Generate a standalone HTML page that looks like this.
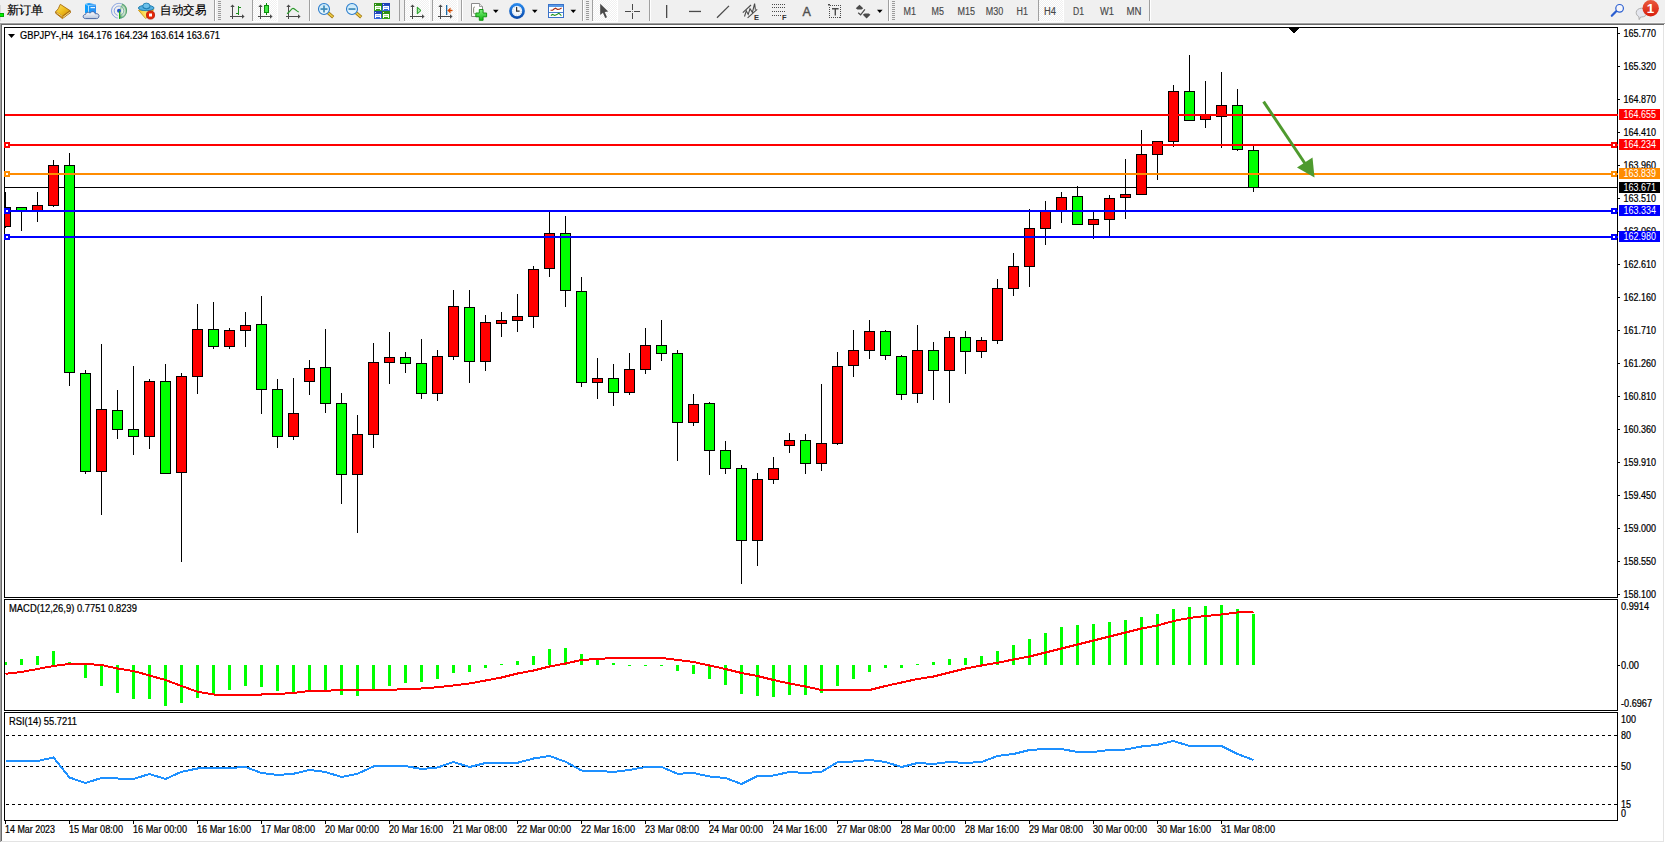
<!DOCTYPE html>
<html lang="zh"><head><meta charset="utf-8"><title>GBPJPY-,H4</title>
<style>html,body{margin:0;padding:0;background:#f0f0f0;overflow:hidden}body{width:1665px;height:843px;position:relative}svg{position:absolute;left:0;top:0;display:block}text{font-family:"Liberation Sans", "DejaVu Sans", sans-serif;white-space:pre}</style>
</head><body>
<svg width="1665" height="843" viewBox="0 0 1665 843">
<g shape-rendering="crispEdges">
<rect x="0" y="0" width="1665" height="843" fill="#f0f0f0"/>
<rect x="0" y="22" width="1665" height="1" fill="#f7f7f7"/>
<rect x="0" y="23" width="1665" height="1" fill="#a0a0a0"/>
<rect x="1" y="24" width="1664" height="1" fill="#696969"/>
<rect x="2" y="25" width="1661" height="816" fill="#ffffff"/>
<rect x="0" y="23" width="1" height="820" fill="#a0a0a0"/>
<rect x="1" y="24" width="1" height="818" fill="#696969"/>
<rect x="1663" y="25" width="1" height="817" fill="#e3e3e3"/>
<rect x="1664" y="24" width="1" height="819" fill="#ffffff"/>
<rect x="1" y="841" width="1663" height="1" fill="#e3e3e3"/>
<rect x="0" y="842" width="1665" height="1" fill="#ffffff"/>
</g>
<g shape-rendering="crispEdges" fill="#000">
<rect x="4" y="27" width="1614" height="1" fill="#000"/>
<rect x="4" y="597" width="1614" height="1" fill="#000"/>
<rect x="4" y="27" width="1" height="571" fill="#000"/>
<rect x="1617" y="27" width="1" height="571" fill="#000"/>
<rect x="4" y="599" width="1614" height="1" fill="#000"/>
<rect x="4" y="710" width="1614" height="1" fill="#000"/>
<rect x="4" y="599" width="1" height="112" fill="#000"/>
<rect x="1617" y="599" width="1" height="112" fill="#000"/>
<rect x="4" y="712" width="1614" height="1" fill="#000"/>
<rect x="4" y="820" width="1614" height="1" fill="#000"/>
<rect x="4" y="712" width="1" height="109" fill="#000"/>
<rect x="1617" y="712" width="1" height="109" fill="#000"/>
</g>
<defs><clipPath id="cm"><rect x="5" y="28" width="1612" height="569"/></clipPath>
<clipPath id="c2"><rect x="5" y="600" width="1612" height="110"/></clipPath>
<clipPath id="c3"><rect x="5" y="713" width="1612" height="107"/></clipPath>
<linearGradient id="redg" x1="0" y1="0" x2="0" y2="1"><stop offset="0" stop-color="#ea5a3c"/><stop offset="1" stop-color="#d81e0c"/></linearGradient>
</defs>
<g shape-rendering="crispEdges" clip-path="url(#cm)">
<rect x="5" y="187" width="1612" height="1" fill="#000"/>
<rect x="5" y="192" width="1" height="36" fill="#000"/>
<rect x="0" y="207" width="11" height="20" fill="#000"/>
<rect x="1" y="208" width="9" height="18" fill="#ff0000"/>
<rect x="21" y="207" width="1" height="24" fill="#000"/>
<rect x="16" y="207" width="11" height="4" fill="#000"/>
<rect x="17" y="208" width="9" height="2" fill="#00ff00"/>
<rect x="37" y="192" width="1" height="30" fill="#000"/>
<rect x="32" y="205" width="11" height="6" fill="#000"/>
<rect x="33" y="206" width="9" height="4" fill="#ff0000"/>
<rect x="53" y="160" width="1" height="47" fill="#000"/>
<rect x="48" y="165" width="11" height="41" fill="#000"/>
<rect x="49" y="166" width="9" height="39" fill="#ff0000"/>
<rect x="69" y="153" width="1" height="233" fill="#000"/>
<rect x="64" y="165" width="11" height="208" fill="#000"/>
<rect x="65" y="166" width="9" height="206" fill="#00ff00"/>
<rect x="85" y="370" width="1" height="104" fill="#000"/>
<rect x="80" y="373" width="11" height="99" fill="#000"/>
<rect x="81" y="374" width="9" height="97" fill="#00ff00"/>
<rect x="101" y="344" width="1" height="171" fill="#000"/>
<rect x="96" y="409" width="11" height="63" fill="#000"/>
<rect x="97" y="410" width="9" height="61" fill="#ff0000"/>
<rect x="117" y="390" width="1" height="49" fill="#000"/>
<rect x="112" y="410" width="11" height="20" fill="#000"/>
<rect x="113" y="411" width="9" height="18" fill="#00ff00"/>
<rect x="133" y="366" width="1" height="89" fill="#000"/>
<rect x="128" y="429" width="11" height="8" fill="#000"/>
<rect x="129" y="430" width="9" height="6" fill="#00ff00"/>
<rect x="149" y="379" width="1" height="70" fill="#000"/>
<rect x="144" y="381" width="11" height="56" fill="#000"/>
<rect x="145" y="382" width="9" height="54" fill="#ff0000"/>
<rect x="165" y="364" width="1" height="110" fill="#000"/>
<rect x="160" y="381" width="11" height="93" fill="#000"/>
<rect x="161" y="382" width="9" height="91" fill="#00ff00"/>
<rect x="181" y="373" width="1" height="189" fill="#000"/>
<rect x="176" y="376" width="11" height="97" fill="#000"/>
<rect x="177" y="377" width="9" height="95" fill="#ff0000"/>
<rect x="197" y="304" width="1" height="90" fill="#000"/>
<rect x="192" y="329" width="11" height="48" fill="#000"/>
<rect x="193" y="330" width="9" height="46" fill="#ff0000"/>
<rect x="213" y="302" width="1" height="47" fill="#000"/>
<rect x="208" y="329" width="11" height="18" fill="#000"/>
<rect x="209" y="330" width="9" height="16" fill="#00ff00"/>
<rect x="229" y="328" width="1" height="21" fill="#000"/>
<rect x="224" y="330" width="11" height="17" fill="#000"/>
<rect x="225" y="331" width="9" height="15" fill="#ff0000"/>
<rect x="245" y="312" width="1" height="35" fill="#000"/>
<rect x="240" y="325" width="11" height="6" fill="#000"/>
<rect x="241" y="326" width="9" height="4" fill="#ff0000"/>
<rect x="261" y="296" width="1" height="118" fill="#000"/>
<rect x="256" y="324" width="11" height="66" fill="#000"/>
<rect x="257" y="325" width="9" height="64" fill="#00ff00"/>
<rect x="277" y="379" width="1" height="69" fill="#000"/>
<rect x="272" y="389" width="11" height="48" fill="#000"/>
<rect x="273" y="390" width="9" height="46" fill="#00ff00"/>
<rect x="293" y="378" width="1" height="62" fill="#000"/>
<rect x="288" y="413" width="11" height="24" fill="#000"/>
<rect x="289" y="414" width="9" height="22" fill="#ff0000"/>
<rect x="309" y="360" width="1" height="35" fill="#000"/>
<rect x="304" y="368" width="11" height="14" fill="#000"/>
<rect x="305" y="369" width="9" height="12" fill="#ff0000"/>
<rect x="325" y="329" width="1" height="84" fill="#000"/>
<rect x="320" y="367" width="11" height="37" fill="#000"/>
<rect x="321" y="368" width="9" height="35" fill="#00ff00"/>
<rect x="341" y="393" width="1" height="111" fill="#000"/>
<rect x="336" y="403" width="11" height="72" fill="#000"/>
<rect x="337" y="404" width="9" height="70" fill="#00ff00"/>
<rect x="357" y="415" width="1" height="118" fill="#000"/>
<rect x="352" y="434" width="11" height="41" fill="#000"/>
<rect x="353" y="435" width="9" height="39" fill="#ff0000"/>
<rect x="373" y="343" width="1" height="105" fill="#000"/>
<rect x="368" y="362" width="11" height="73" fill="#000"/>
<rect x="369" y="363" width="9" height="71" fill="#ff0000"/>
<rect x="389" y="332" width="1" height="52" fill="#000"/>
<rect x="384" y="357" width="11" height="6" fill="#000"/>
<rect x="385" y="358" width="9" height="4" fill="#ff0000"/>
<rect x="405" y="352" width="1" height="21" fill="#000"/>
<rect x="400" y="357" width="11" height="7" fill="#000"/>
<rect x="401" y="358" width="9" height="5" fill="#00ff00"/>
<rect x="421" y="339" width="1" height="60" fill="#000"/>
<rect x="416" y="363" width="11" height="31" fill="#000"/>
<rect x="417" y="364" width="9" height="29" fill="#00ff00"/>
<rect x="437" y="350" width="1" height="51" fill="#000"/>
<rect x="432" y="356" width="11" height="38" fill="#000"/>
<rect x="433" y="357" width="9" height="36" fill="#ff0000"/>
<rect x="453" y="290" width="1" height="70" fill="#000"/>
<rect x="448" y="306" width="11" height="51" fill="#000"/>
<rect x="449" y="307" width="9" height="49" fill="#ff0000"/>
<rect x="469" y="290" width="1" height="93" fill="#000"/>
<rect x="464" y="307" width="11" height="55" fill="#000"/>
<rect x="465" y="308" width="9" height="53" fill="#00ff00"/>
<rect x="485" y="315" width="1" height="56" fill="#000"/>
<rect x="480" y="322" width="11" height="40" fill="#000"/>
<rect x="481" y="323" width="9" height="38" fill="#ff0000"/>
<rect x="501" y="312" width="1" height="25" fill="#000"/>
<rect x="496" y="320" width="11" height="4" fill="#000"/>
<rect x="497" y="321" width="9" height="2" fill="#ff0000"/>
<rect x="517" y="294" width="1" height="38" fill="#000"/>
<rect x="512" y="316" width="11" height="5" fill="#000"/>
<rect x="513" y="317" width="9" height="3" fill="#ff0000"/>
<rect x="533" y="266" width="1" height="62" fill="#000"/>
<rect x="528" y="269" width="11" height="48" fill="#000"/>
<rect x="529" y="270" width="9" height="46" fill="#ff0000"/>
<rect x="549" y="211" width="1" height="66" fill="#000"/>
<rect x="544" y="233" width="11" height="36" fill="#000"/>
<rect x="545" y="234" width="9" height="34" fill="#ff0000"/>
<rect x="565" y="216" width="1" height="91" fill="#000"/>
<rect x="560" y="233" width="11" height="58" fill="#000"/>
<rect x="561" y="234" width="9" height="56" fill="#00ff00"/>
<rect x="581" y="277" width="1" height="110" fill="#000"/>
<rect x="576" y="291" width="11" height="92" fill="#000"/>
<rect x="577" y="292" width="9" height="90" fill="#00ff00"/>
<rect x="597" y="358" width="1" height="41" fill="#000"/>
<rect x="592" y="378" width="11" height="5" fill="#000"/>
<rect x="593" y="379" width="9" height="3" fill="#ff0000"/>
<rect x="613" y="364" width="1" height="42" fill="#000"/>
<rect x="608" y="378" width="11" height="15" fill="#000"/>
<rect x="609" y="379" width="9" height="13" fill="#00ff00"/>
<rect x="629" y="353" width="1" height="42" fill="#000"/>
<rect x="624" y="369" width="11" height="24" fill="#000"/>
<rect x="625" y="370" width="9" height="22" fill="#ff0000"/>
<rect x="645" y="328" width="1" height="46" fill="#000"/>
<rect x="640" y="345" width="11" height="25" fill="#000"/>
<rect x="641" y="346" width="9" height="23" fill="#ff0000"/>
<rect x="661" y="320" width="1" height="41" fill="#000"/>
<rect x="656" y="345" width="11" height="9" fill="#000"/>
<rect x="657" y="346" width="9" height="7" fill="#00ff00"/>
<rect x="677" y="350" width="1" height="111" fill="#000"/>
<rect x="672" y="353" width="11" height="70" fill="#000"/>
<rect x="673" y="354" width="9" height="68" fill="#00ff00"/>
<rect x="693" y="394" width="1" height="32" fill="#000"/>
<rect x="688" y="404" width="11" height="19" fill="#000"/>
<rect x="689" y="405" width="9" height="17" fill="#ff0000"/>
<rect x="709" y="402" width="1" height="73" fill="#000"/>
<rect x="704" y="403" width="11" height="48" fill="#000"/>
<rect x="705" y="404" width="9" height="46" fill="#00ff00"/>
<rect x="725" y="441" width="1" height="33" fill="#000"/>
<rect x="720" y="450" width="11" height="19" fill="#000"/>
<rect x="721" y="451" width="9" height="17" fill="#00ff00"/>
<rect x="741" y="465" width="1" height="119" fill="#000"/>
<rect x="736" y="468" width="11" height="73" fill="#000"/>
<rect x="737" y="469" width="9" height="71" fill="#00ff00"/>
<rect x="757" y="473" width="1" height="93" fill="#000"/>
<rect x="752" y="479" width="11" height="62" fill="#000"/>
<rect x="753" y="480" width="9" height="60" fill="#ff0000"/>
<rect x="773" y="457" width="1" height="27" fill="#000"/>
<rect x="768" y="468" width="11" height="12" fill="#000"/>
<rect x="769" y="469" width="9" height="10" fill="#ff0000"/>
<rect x="789" y="433" width="1" height="20" fill="#000"/>
<rect x="784" y="440" width="11" height="6" fill="#000"/>
<rect x="785" y="441" width="9" height="4" fill="#ff0000"/>
<rect x="805" y="434" width="1" height="40" fill="#000"/>
<rect x="800" y="440" width="11" height="24" fill="#000"/>
<rect x="801" y="441" width="9" height="22" fill="#00ff00"/>
<rect x="821" y="384" width="1" height="87" fill="#000"/>
<rect x="816" y="443" width="11" height="21" fill="#000"/>
<rect x="817" y="444" width="9" height="19" fill="#ff0000"/>
<rect x="837" y="352" width="1" height="93" fill="#000"/>
<rect x="832" y="366" width="11" height="78" fill="#000"/>
<rect x="833" y="367" width="9" height="76" fill="#ff0000"/>
<rect x="853" y="330" width="1" height="47" fill="#000"/>
<rect x="848" y="350" width="11" height="16" fill="#000"/>
<rect x="849" y="351" width="9" height="14" fill="#ff0000"/>
<rect x="869" y="320" width="1" height="39" fill="#000"/>
<rect x="864" y="331" width="11" height="20" fill="#000"/>
<rect x="865" y="332" width="9" height="18" fill="#ff0000"/>
<rect x="885" y="330" width="1" height="30" fill="#000"/>
<rect x="880" y="331" width="11" height="25" fill="#000"/>
<rect x="881" y="332" width="9" height="23" fill="#00ff00"/>
<rect x="901" y="355" width="1" height="45" fill="#000"/>
<rect x="896" y="356" width="11" height="39" fill="#000"/>
<rect x="897" y="357" width="9" height="37" fill="#00ff00"/>
<rect x="917" y="325" width="1" height="78" fill="#000"/>
<rect x="912" y="350" width="11" height="44" fill="#000"/>
<rect x="913" y="351" width="9" height="42" fill="#ff0000"/>
<rect x="933" y="342" width="1" height="58" fill="#000"/>
<rect x="928" y="350" width="11" height="21" fill="#000"/>
<rect x="929" y="351" width="9" height="19" fill="#00ff00"/>
<rect x="949" y="331" width="1" height="72" fill="#000"/>
<rect x="944" y="337" width="11" height="34" fill="#000"/>
<rect x="945" y="338" width="9" height="32" fill="#ff0000"/>
<rect x="965" y="331" width="1" height="43" fill="#000"/>
<rect x="960" y="337" width="11" height="15" fill="#000"/>
<rect x="961" y="338" width="9" height="13" fill="#00ff00"/>
<rect x="981" y="337" width="1" height="21" fill="#000"/>
<rect x="976" y="340" width="11" height="12" fill="#000"/>
<rect x="977" y="341" width="9" height="10" fill="#ff0000"/>
<rect x="997" y="279" width="1" height="65" fill="#000"/>
<rect x="992" y="288" width="11" height="53" fill="#000"/>
<rect x="993" y="289" width="9" height="51" fill="#ff0000"/>
<rect x="1013" y="253" width="1" height="43" fill="#000"/>
<rect x="1008" y="266" width="11" height="23" fill="#000"/>
<rect x="1009" y="267" width="9" height="21" fill="#ff0000"/>
<rect x="1029" y="209" width="1" height="78" fill="#000"/>
<rect x="1024" y="228" width="11" height="39" fill="#000"/>
<rect x="1025" y="229" width="9" height="37" fill="#ff0000"/>
<rect x="1045" y="201" width="1" height="44" fill="#000"/>
<rect x="1040" y="210" width="11" height="19" fill="#000"/>
<rect x="1041" y="211" width="9" height="17" fill="#ff0000"/>
<rect x="1061" y="192" width="1" height="31" fill="#000"/>
<rect x="1056" y="197" width="11" height="14" fill="#000"/>
<rect x="1057" y="198" width="9" height="12" fill="#ff0000"/>
<rect x="1077" y="186" width="1" height="39" fill="#000"/>
<rect x="1072" y="196" width="11" height="29" fill="#000"/>
<rect x="1073" y="197" width="9" height="27" fill="#00ff00"/>
<rect x="1093" y="212" width="1" height="27" fill="#000"/>
<rect x="1088" y="219" width="11" height="6" fill="#000"/>
<rect x="1089" y="220" width="9" height="4" fill="#ff0000"/>
<rect x="1109" y="195" width="1" height="41" fill="#000"/>
<rect x="1104" y="198" width="11" height="22" fill="#000"/>
<rect x="1105" y="199" width="9" height="20" fill="#ff0000"/>
<rect x="1125" y="159" width="1" height="60" fill="#000"/>
<rect x="1120" y="194" width="11" height="4" fill="#000"/>
<rect x="1121" y="195" width="9" height="2" fill="#ff0000"/>
<rect x="1141" y="130" width="1" height="65" fill="#000"/>
<rect x="1136" y="154" width="11" height="41" fill="#000"/>
<rect x="1137" y="155" width="9" height="39" fill="#ff0000"/>
<rect x="1157" y="141" width="1" height="39" fill="#000"/>
<rect x="1152" y="141" width="11" height="14" fill="#000"/>
<rect x="1153" y="142" width="9" height="12" fill="#ff0000"/>
<rect x="1173" y="85" width="1" height="62" fill="#000"/>
<rect x="1168" y="91" width="11" height="51" fill="#000"/>
<rect x="1169" y="92" width="9" height="49" fill="#ff0000"/>
<rect x="1189" y="55" width="1" height="66" fill="#000"/>
<rect x="1184" y="91" width="11" height="30" fill="#000"/>
<rect x="1185" y="92" width="9" height="28" fill="#00ff00"/>
<rect x="1205" y="81" width="1" height="47" fill="#000"/>
<rect x="1200" y="115" width="11" height="5" fill="#000"/>
<rect x="1201" y="116" width="9" height="3" fill="#ff0000"/>
<rect x="1221" y="72" width="1" height="76" fill="#000"/>
<rect x="1216" y="105" width="11" height="12" fill="#000"/>
<rect x="1217" y="106" width="9" height="10" fill="#ff0000"/>
<rect x="1237" y="89" width="1" height="62" fill="#000"/>
<rect x="1232" y="105" width="11" height="45" fill="#000"/>
<rect x="1233" y="106" width="9" height="43" fill="#00ff00"/>
<rect x="1253" y="146" width="1" height="46" fill="#000"/>
<rect x="1248" y="150" width="11" height="38" fill="#000"/>
<rect x="1249" y="151" width="9" height="36" fill="#00ff00"/>
</g>
<g shape-rendering="crispEdges">
<rect x="5" y="114" width="1613" height="2" fill="#ff0000"/>
<rect x="5" y="144" width="1613" height="2" fill="#ff0000"/>
<rect x="4" y="142" width="6" height="6" fill="#ff0000"/>
<rect x="6" y="144" width="2" height="2" fill="#fff"/>
<rect x="1611" y="142" width="6" height="6" fill="#ff0000"/>
<rect x="1613" y="144" width="2" height="2" fill="#fff"/>
<rect x="5" y="173" width="1613" height="2" fill="#ff8c00"/>
<rect x="4" y="171" width="6" height="6" fill="#ff8c00"/>
<rect x="6" y="173" width="2" height="2" fill="#fff"/>
<rect x="1611" y="171" width="6" height="6" fill="#ff8c00"/>
<rect x="1613" y="173" width="2" height="2" fill="#fff"/>
<rect x="5" y="210" width="1613" height="2" fill="#0000ff"/>
<rect x="4" y="208" width="6" height="6" fill="#0000ff"/>
<rect x="6" y="210" width="2" height="2" fill="#fff"/>
<rect x="1611" y="208" width="6" height="6" fill="#0000ff"/>
<rect x="1613" y="210" width="2" height="2" fill="#fff"/>
<rect x="5" y="236" width="1613" height="2" fill="#0000ff"/>
<rect x="4" y="234" width="6" height="6" fill="#0000ff"/>
<rect x="6" y="236" width="2" height="2" fill="#fff"/>
<rect x="1611" y="234" width="6" height="6" fill="#0000ff"/>
<rect x="1613" y="236" width="2" height="2" fill="#fff"/>
</g>
<g><line x1="1263.6" y1="101.6" x2="1306" y2="165" stroke="#4e9a2e" stroke-width="3"/>
<polygon points="1314.5,177.5 1297,167.5 1312.5,157.5" fill="#4e9a2e"/></g>
<polygon points="1288.5,28 1299.5,28 1294,33.5" fill="#000" shape-rendering="crispEdges"/>
<g shape-rendering="crispEdges" clip-path="url(#c2)">
<rect x="4" y="662" width="3" height="3" fill="#00ff00"/>
<rect x="20" y="659" width="3" height="6" fill="#00ff00"/>
<rect x="36" y="656" width="3" height="9" fill="#00ff00"/>
<rect x="52" y="651" width="3" height="14" fill="#00ff00"/>
<rect x="68" y="662" width="3" height="3" fill="#00ff00"/>
<rect x="84" y="665" width="3" height="13" fill="#00ff00"/>
<rect x="100" y="665" width="3" height="21" fill="#00ff00"/>
<rect x="116" y="665" width="3" height="28" fill="#00ff00"/>
<rect x="132" y="665" width="3" height="34" fill="#00ff00"/>
<rect x="148" y="665" width="3" height="34" fill="#00ff00"/>
<rect x="164" y="665" width="3" height="41" fill="#00ff00"/>
<rect x="180" y="665" width="3" height="38" fill="#00ff00"/>
<rect x="196" y="665" width="3" height="33" fill="#00ff00"/>
<rect x="212" y="665" width="3" height="30" fill="#00ff00"/>
<rect x="228" y="665" width="3" height="25" fill="#00ff00"/>
<rect x="244" y="665" width="3" height="21" fill="#00ff00"/>
<rect x="260" y="665" width="3" height="22" fill="#00ff00"/>
<rect x="276" y="665" width="3" height="26" fill="#00ff00"/>
<rect x="292" y="665" width="3" height="28" fill="#00ff00"/>
<rect x="308" y="665" width="3" height="26" fill="#00ff00"/>
<rect x="324" y="665" width="3" height="25" fill="#00ff00"/>
<rect x="340" y="665" width="3" height="30" fill="#00ff00"/>
<rect x="356" y="665" width="3" height="31" fill="#00ff00"/>
<rect x="372" y="665" width="3" height="24" fill="#00ff00"/>
<rect x="388" y="665" width="3" height="21" fill="#00ff00"/>
<rect x="404" y="665" width="3" height="18" fill="#00ff00"/>
<rect x="420" y="665" width="3" height="17" fill="#00ff00"/>
<rect x="436" y="665" width="3" height="14" fill="#00ff00"/>
<rect x="452" y="665" width="3" height="8" fill="#00ff00"/>
<rect x="468" y="665" width="3" height="7" fill="#00ff00"/>
<rect x="484" y="665" width="3" height="3" fill="#00ff00"/>
<rect x="500" y="664" width="3" height="1" fill="#00ff00"/>
<rect x="516" y="661" width="3" height="4" fill="#00ff00"/>
<rect x="532" y="656" width="3" height="9" fill="#00ff00"/>
<rect x="548" y="649" width="3" height="16" fill="#00ff00"/>
<rect x="564" y="648" width="3" height="17" fill="#00ff00"/>
<rect x="580" y="654" width="3" height="11" fill="#00ff00"/>
<rect x="596" y="658" width="3" height="7" fill="#00ff00"/>
<rect x="612" y="663" width="3" height="2" fill="#00ff00"/>
<rect x="628" y="665" width="3" height="1" fill="#00ff00"/>
<rect x="644" y="665" width="3" height="1" fill="#00ff00"/>
<rect x="660" y="665" width="3" height="1" fill="#00ff00"/>
<rect x="676" y="665" width="3" height="6" fill="#00ff00"/>
<rect x="692" y="665" width="3" height="9" fill="#00ff00"/>
<rect x="708" y="665" width="3" height="14" fill="#00ff00"/>
<rect x="724" y="665" width="3" height="20" fill="#00ff00"/>
<rect x="740" y="665" width="3" height="29" fill="#00ff00"/>
<rect x="756" y="665" width="3" height="31" fill="#00ff00"/>
<rect x="772" y="665" width="3" height="32" fill="#00ff00"/>
<rect x="788" y="665" width="3" height="30" fill="#00ff00"/>
<rect x="804" y="665" width="3" height="30" fill="#00ff00"/>
<rect x="820" y="665" width="3" height="28" fill="#00ff00"/>
<rect x="836" y="665" width="3" height="21" fill="#00ff00"/>
<rect x="852" y="665" width="3" height="14" fill="#00ff00"/>
<rect x="868" y="665" width="3" height="7" fill="#00ff00"/>
<rect x="884" y="665" width="3" height="3" fill="#00ff00"/>
<rect x="900" y="665" width="3" height="3" fill="#00ff00"/>
<rect x="916" y="664" width="3" height="1" fill="#00ff00"/>
<rect x="932" y="662" width="3" height="3" fill="#00ff00"/>
<rect x="948" y="659" width="3" height="6" fill="#00ff00"/>
<rect x="964" y="658" width="3" height="7" fill="#00ff00"/>
<rect x="980" y="656" width="3" height="9" fill="#00ff00"/>
<rect x="996" y="651" width="3" height="14" fill="#00ff00"/>
<rect x="1012" y="645" width="3" height="20" fill="#00ff00"/>
<rect x="1028" y="639" width="3" height="26" fill="#00ff00"/>
<rect x="1044" y="633" width="3" height="32" fill="#00ff00"/>
<rect x="1060" y="627" width="3" height="38" fill="#00ff00"/>
<rect x="1076" y="625" width="3" height="40" fill="#00ff00"/>
<rect x="1092" y="624" width="3" height="41" fill="#00ff00"/>
<rect x="1108" y="622" width="3" height="43" fill="#00ff00"/>
<rect x="1124" y="620" width="3" height="45" fill="#00ff00"/>
<rect x="1140" y="617" width="3" height="48" fill="#00ff00"/>
<rect x="1156" y="614" width="3" height="51" fill="#00ff00"/>
<rect x="1172" y="609" width="3" height="56" fill="#00ff00"/>
<rect x="1188" y="607" width="3" height="58" fill="#00ff00"/>
<rect x="1204" y="606" width="3" height="59" fill="#00ff00"/>
<rect x="1220" y="605" width="3" height="60" fill="#00ff00"/>
<rect x="1236" y="609" width="3" height="56" fill="#00ff00"/>
<rect x="1252" y="614" width="3" height="51" fill="#00ff00"/>
</g>
<polyline points="5.5,673.75 21.5,672 37.5,669 53.5,666 69.5,664 85.5,664 101.5,665 117.5,668.5 133.5,671 149.5,675.5 165.5,680 181.5,686 197.5,691.75 213.5,694.5 229.5,694.5 245.5,694.5 261.5,694.5 277.5,694 293.5,693 309.5,691 325.5,690.75 341.5,690 357.5,690 373.5,690 389.5,690 405.5,689 421.5,688.5 437.5,687.25 453.5,685.5 469.5,683.5 485.5,680.5 501.5,677.5 517.5,673.5 533.5,670.5 549.5,666.5 565.5,663.5 581.5,660 597.5,659 613.5,658 629.5,658 645.5,658 661.5,658 677.5,660 693.5,662 709.5,665.5 725.5,669 741.5,673 757.5,676 773.5,680 789.5,683.5 805.5,686.5 821.5,690 837.5,690 853.5,690 869.5,690 885.5,686 901.5,682.5 917.5,679 933.5,676.5 949.5,672.5 965.5,668.5 981.5,665.5 997.5,662.75 1013.5,659.5 1029.5,656.5 1045.5,652.5 1061.5,648.5 1077.5,644.5 1093.5,640.5 1109.5,636.5 1125.5,632.5 1141.5,628.5 1157.5,625.5 1173.5,621 1189.5,618 1205.5,616 1221.5,614.5 1237.5,612.5 1253.5,612" fill="none" stroke="#ff0000" stroke-width="2" stroke-linejoin="round" shape-rendering="crispEdges" clip-path="url(#c2)"/>
<g shape-rendering="crispEdges">
<line x1="6" y1="735.5" x2="1617" y2="735.5" stroke="#000" stroke-width="1" stroke-dasharray="3,3" stroke-dashoffset="0"/>
<line x1="6" y1="766.5" x2="1617" y2="766.5" stroke="#000" stroke-width="1" stroke-dasharray="3,3" stroke-dashoffset="0"/>
<line x1="6" y1="804.5" x2="1617" y2="804.5" stroke="#000" stroke-width="1" stroke-dasharray="3,3" stroke-dashoffset="0"/>
</g>
<polyline points="5.5,761 21.5,761 37.5,761 53.5,757.5 69.5,777.5 85.5,783 101.5,778 117.5,778.5 133.5,779 149.5,774 165.5,779 181.5,771.75 197.5,768.5 213.5,768 229.5,768 245.5,767 261.5,773 277.5,775 293.5,773.75 309.5,770 325.5,772 341.5,777 357.5,773.75 373.5,766.5 389.5,766 405.5,766 421.5,769 437.5,767.5 453.5,762 469.5,767 485.5,763 501.5,763 517.5,762.75 533.5,758.5 549.5,756 565.5,761.75 581.5,770.5 597.5,770.75 613.5,772 629.5,770 645.5,767 661.5,767 677.5,773.75 693.5,773 709.5,776.5 725.5,778 741.5,784 757.5,776 773.5,775.5 789.5,772 805.5,773 821.5,771.75 837.5,762.25 853.5,761.5 869.5,760 885.5,762 901.5,767 917.5,763 933.5,764 949.5,762 965.5,763 981.5,762 997.5,756 1013.5,754 1029.5,750 1045.5,749 1061.5,749 1077.5,752 1093.5,752 1109.5,750 1125.5,749.5 1141.5,746.5 1157.5,744.75 1173.5,741 1189.5,746 1205.5,746 1221.5,746 1237.5,754 1253.5,760" fill="none" stroke="#1e90ff" stroke-width="2" stroke-linejoin="round" shape-rendering="crispEdges" clip-path="url(#c3)"/>
<g shape-rendering="crispEdges">
<rect x="1618" y="33" width="2" height="1" fill="#000"/>
<rect x="1618" y="66" width="2" height="1" fill="#000"/>
<rect x="1618" y="99" width="2" height="1" fill="#000"/>
<rect x="1618" y="132" width="2" height="1" fill="#000"/>
<rect x="1618" y="165" width="2" height="1" fill="#000"/>
<rect x="1618" y="198" width="2" height="1" fill="#000"/>
<rect x="1618" y="231" width="2" height="1" fill="#000"/>
<rect x="1618" y="264" width="2" height="1" fill="#000"/>
<rect x="1618" y="297" width="2" height="1" fill="#000"/>
<rect x="1618" y="330" width="2" height="1" fill="#000"/>
<rect x="1618" y="363" width="2" height="1" fill="#000"/>
<rect x="1618" y="396" width="2" height="1" fill="#000"/>
<rect x="1618" y="429" width="2" height="1" fill="#000"/>
<rect x="1618" y="462" width="2" height="1" fill="#000"/>
<rect x="1618" y="495" width="2" height="1" fill="#000"/>
<rect x="1618" y="528" width="2" height="1" fill="#000"/>
<rect x="1618" y="561" width="2" height="1" fill="#000"/>
<rect x="1618" y="594" width="2" height="1" fill="#000"/>
</g>
<text x="1623.5" y="37" font-size="10" fill="#000" textLength="32.5" lengthAdjust="spacingAndGlyphs" stroke="#000" stroke-width="0.22">165.770</text>
<text x="1623.5" y="70" font-size="10" fill="#000" textLength="32.5" lengthAdjust="spacingAndGlyphs" stroke="#000" stroke-width="0.22">165.320</text>
<text x="1623.5" y="103" font-size="10" fill="#000" textLength="32.5" lengthAdjust="spacingAndGlyphs" stroke="#000" stroke-width="0.22">164.870</text>
<text x="1623.5" y="136" font-size="10" fill="#000" textLength="32.5" lengthAdjust="spacingAndGlyphs" stroke="#000" stroke-width="0.22">164.410</text>
<text x="1623.5" y="169" font-size="10" fill="#000" textLength="32.5" lengthAdjust="spacingAndGlyphs" stroke="#000" stroke-width="0.22">163.960</text>
<text x="1623.5" y="202" font-size="10" fill="#000" textLength="32.5" lengthAdjust="spacingAndGlyphs" stroke="#000" stroke-width="0.22">163.510</text>
<text x="1623.5" y="235" font-size="10" fill="#000" textLength="32.5" lengthAdjust="spacingAndGlyphs" stroke="#000" stroke-width="0.22">163.060</text>
<text x="1623.5" y="268" font-size="10" fill="#000" textLength="32.5" lengthAdjust="spacingAndGlyphs" stroke="#000" stroke-width="0.22">162.610</text>
<text x="1623.5" y="301" font-size="10" fill="#000" textLength="32.5" lengthAdjust="spacingAndGlyphs" stroke="#000" stroke-width="0.22">162.160</text>
<text x="1623.5" y="334" font-size="10" fill="#000" textLength="32.5" lengthAdjust="spacingAndGlyphs" stroke="#000" stroke-width="0.22">161.710</text>
<text x="1623.5" y="367" font-size="10" fill="#000" textLength="32.5" lengthAdjust="spacingAndGlyphs" stroke="#000" stroke-width="0.22">161.260</text>
<text x="1623.5" y="400" font-size="10" fill="#000" textLength="32.5" lengthAdjust="spacingAndGlyphs" stroke="#000" stroke-width="0.22">160.810</text>
<text x="1623.5" y="433" font-size="10" fill="#000" textLength="32.5" lengthAdjust="spacingAndGlyphs" stroke="#000" stroke-width="0.22">160.360</text>
<text x="1623.5" y="466" font-size="10" fill="#000" textLength="32.5" lengthAdjust="spacingAndGlyphs" stroke="#000" stroke-width="0.22">159.910</text>
<text x="1623.5" y="499" font-size="10" fill="#000" textLength="32.5" lengthAdjust="spacingAndGlyphs" stroke="#000" stroke-width="0.22">159.450</text>
<text x="1623.5" y="532" font-size="10" fill="#000" textLength="32.5" lengthAdjust="spacingAndGlyphs" stroke="#000" stroke-width="0.22">159.000</text>
<text x="1623.5" y="565" font-size="10" fill="#000" textLength="32.5" lengthAdjust="spacingAndGlyphs" stroke="#000" stroke-width="0.22">158.550</text>
<text x="1623.5" y="598" font-size="10" fill="#000" textLength="32.5" lengthAdjust="spacingAndGlyphs" stroke="#000" stroke-width="0.22">158.100</text>
<g shape-rendering="crispEdges">
<rect x="1619" y="109" width="41" height="11" fill="#ff0000"/>
<rect x="1619" y="139" width="41" height="11" fill="#ff0000"/>
<rect x="1619" y="168" width="41" height="11" fill="#ff8c00"/>
<rect x="1619" y="205" width="41" height="11" fill="#0000ff"/>
<rect x="1619" y="231" width="41" height="11" fill="#0000ff"/>
<rect x="1619" y="182" width="41" height="11" fill="#000"/>
</g>
<text x="1623.5" y="118" font-size="10" fill="#fff" textLength="32.5" lengthAdjust="spacingAndGlyphs">164.655</text>
<text x="1623.5" y="148" font-size="10" fill="#fff" textLength="32.5" lengthAdjust="spacingAndGlyphs">164.234</text>
<text x="1623.5" y="177" font-size="10" fill="#fff" textLength="32.5" lengthAdjust="spacingAndGlyphs">163.839</text>
<text x="1623.5" y="214" font-size="10" fill="#fff" textLength="32.5" lengthAdjust="spacingAndGlyphs">163.334</text>
<text x="1623.5" y="240" font-size="10" fill="#fff" textLength="32.5" lengthAdjust="spacingAndGlyphs">162.980</text>
<text x="1623.5" y="191" font-size="10" fill="#fff" textLength="32.5" lengthAdjust="spacingAndGlyphs">163.671</text>
<g shape-rendering="crispEdges">
<rect x="1618" y="665" width="2" height="1" fill="#000"/>
</g>
<text x="1621" y="610" font-size="10" fill="#000" textLength="28" lengthAdjust="spacingAndGlyphs" stroke="#000" stroke-width="0.22">0.9914</text>
<text x="1621" y="669" font-size="10" fill="#000" textLength="18" lengthAdjust="spacingAndGlyphs" stroke="#000" stroke-width="0.22">0.00</text>
<text x="1621" y="707" font-size="10" fill="#000" textLength="31" lengthAdjust="spacingAndGlyphs" stroke="#000" stroke-width="0.22">-0.6967</text>
<text x="1621" y="723" font-size="10" fill="#000" textLength="15" lengthAdjust="spacingAndGlyphs" stroke="#000" stroke-width="0.22">100</text>
<text x="1621" y="739" font-size="10" fill="#000" textLength="10" lengthAdjust="spacingAndGlyphs" stroke="#000" stroke-width="0.22">80</text>
<text x="1621" y="770" font-size="10" fill="#000" textLength="10" lengthAdjust="spacingAndGlyphs" stroke="#000" stroke-width="0.22">50</text>
<text x="1621" y="808" font-size="10" fill="#000" textLength="10" lengthAdjust="spacingAndGlyphs" stroke="#000" stroke-width="0.22">15</text>
<text x="1621" y="817" font-size="10" fill="#000" textLength="5" lengthAdjust="spacingAndGlyphs" stroke="#000" stroke-width="0.22">0</text>
<polygon points="8,34 15,34 11.5,38" fill="#000"/>
<text x="20" y="39" font-size="10" fill="#000" textLength="200" lengthAdjust="spacingAndGlyphs" stroke="#000" stroke-width="0.22">GBPJPY-,H4  164.176 164.234 163.614 163.671</text>
<text x="9" y="612" font-size="10" fill="#000" textLength="128" lengthAdjust="spacingAndGlyphs" stroke="#000" stroke-width="0.22">MACD(12,26,9) 0.7751 0.8239</text>
<text x="9" y="725" font-size="10" fill="#000" textLength="68" lengthAdjust="spacingAndGlyphs" stroke="#000" stroke-width="0.22">RSI(14) 55.7211</text>
<g shape-rendering="crispEdges">
<rect x="5" y="821" width="1" height="3" fill="#000"/>
<rect x="69" y="821" width="1" height="3" fill="#000"/>
<rect x="133" y="821" width="1" height="3" fill="#000"/>
<rect x="197" y="821" width="1" height="3" fill="#000"/>
<rect x="261" y="821" width="1" height="3" fill="#000"/>
<rect x="325" y="821" width="1" height="3" fill="#000"/>
<rect x="389" y="821" width="1" height="3" fill="#000"/>
<rect x="453" y="821" width="1" height="3" fill="#000"/>
<rect x="517" y="821" width="1" height="3" fill="#000"/>
<rect x="581" y="821" width="1" height="3" fill="#000"/>
<rect x="645" y="821" width="1" height="3" fill="#000"/>
<rect x="709" y="821" width="1" height="3" fill="#000"/>
<rect x="773" y="821" width="1" height="3" fill="#000"/>
<rect x="837" y="821" width="1" height="3" fill="#000"/>
<rect x="901" y="821" width="1" height="3" fill="#000"/>
<rect x="965" y="821" width="1" height="3" fill="#000"/>
<rect x="1029" y="821" width="1" height="3" fill="#000"/>
<rect x="1093" y="821" width="1" height="3" fill="#000"/>
<rect x="1157" y="821" width="1" height="3" fill="#000"/>
<rect x="1221" y="821" width="1" height="3" fill="#000"/>
</g>
<text x="5" y="833" font-size="10" fill="#000" textLength="50" lengthAdjust="spacingAndGlyphs" stroke="#000" stroke-width="0.22">14 Mar 2023</text>
<text x="69" y="833" font-size="10" fill="#000" textLength="54" lengthAdjust="spacingAndGlyphs" stroke="#000" stroke-width="0.22">15 Mar 08:00</text>
<text x="133" y="833" font-size="10" fill="#000" textLength="54" lengthAdjust="spacingAndGlyphs" stroke="#000" stroke-width="0.22">16 Mar 00:00</text>
<text x="197" y="833" font-size="10" fill="#000" textLength="54" lengthAdjust="spacingAndGlyphs" stroke="#000" stroke-width="0.22">16 Mar 16:00</text>
<text x="261" y="833" font-size="10" fill="#000" textLength="54" lengthAdjust="spacingAndGlyphs" stroke="#000" stroke-width="0.22">17 Mar 08:00</text>
<text x="325" y="833" font-size="10" fill="#000" textLength="54" lengthAdjust="spacingAndGlyphs" stroke="#000" stroke-width="0.22">20 Mar 00:00</text>
<text x="389" y="833" font-size="10" fill="#000" textLength="54" lengthAdjust="spacingAndGlyphs" stroke="#000" stroke-width="0.22">20 Mar 16:00</text>
<text x="453" y="833" font-size="10" fill="#000" textLength="54" lengthAdjust="spacingAndGlyphs" stroke="#000" stroke-width="0.22">21 Mar 08:00</text>
<text x="517" y="833" font-size="10" fill="#000" textLength="54" lengthAdjust="spacingAndGlyphs" stroke="#000" stroke-width="0.22">22 Mar 00:00</text>
<text x="581" y="833" font-size="10" fill="#000" textLength="54" lengthAdjust="spacingAndGlyphs" stroke="#000" stroke-width="0.22">22 Mar 16:00</text>
<text x="645" y="833" font-size="10" fill="#000" textLength="54" lengthAdjust="spacingAndGlyphs" stroke="#000" stroke-width="0.22">23 Mar 08:00</text>
<text x="709" y="833" font-size="10" fill="#000" textLength="54" lengthAdjust="spacingAndGlyphs" stroke="#000" stroke-width="0.22">24 Mar 00:00</text>
<text x="773" y="833" font-size="10" fill="#000" textLength="54" lengthAdjust="spacingAndGlyphs" stroke="#000" stroke-width="0.22">24 Mar 16:00</text>
<text x="837" y="833" font-size="10" fill="#000" textLength="54" lengthAdjust="spacingAndGlyphs" stroke="#000" stroke-width="0.22">27 Mar 08:00</text>
<text x="901" y="833" font-size="10" fill="#000" textLength="54" lengthAdjust="spacingAndGlyphs" stroke="#000" stroke-width="0.22">28 Mar 00:00</text>
<text x="965" y="833" font-size="10" fill="#000" textLength="54" lengthAdjust="spacingAndGlyphs" stroke="#000" stroke-width="0.22">28 Mar 16:00</text>
<text x="1029" y="833" font-size="10" fill="#000" textLength="54" lengthAdjust="spacingAndGlyphs" stroke="#000" stroke-width="0.22">29 Mar 08:00</text>
<text x="1093" y="833" font-size="10" fill="#000" textLength="54" lengthAdjust="spacingAndGlyphs" stroke="#000" stroke-width="0.22">30 Mar 00:00</text>
<text x="1157" y="833" font-size="10" fill="#000" textLength="54" lengthAdjust="spacingAndGlyphs" stroke="#000" stroke-width="0.22">30 Mar 16:00</text>
<text x="1221" y="833" font-size="10" fill="#000" textLength="54" lengthAdjust="spacingAndGlyphs" stroke="#000" stroke-width="0.22">31 Mar 08:00</text>
<defs>
<pattern id="chk" width="2" height="2" patternUnits="userSpaceOnUse"><rect width="2" height="2" fill="#f0f0f0"/><rect width="1" height="1" fill="#fff"/><rect x="1" y="1" width="1" height="1" fill="#fff"/></pattern>
<linearGradient id="gold" x1="0" y1="0" x2="1" y2="1"><stop offset="0" stop-color="#fbe36a"/><stop offset="0.5" stop-color="#f0c020"/><stop offset="1" stop-color="#d08a08"/></linearGradient>
<linearGradient id="cloud" x1="0" y1="0" x2="0" y2="1"><stop offset="0" stop-color="#ffffff"/><stop offset="1" stop-color="#b8c6de"/></linearGradient>
<linearGradient id="srv" x1="0" y1="0" x2="1" y2="0"><stop offset="0" stop-color="#0aa0ff"/><stop offset="1" stop-color="#2f8ef0"/></linearGradient>
<linearGradient id="lens" x1="0" y1="0" x2="0" y2="1"><stop offset="0" stop-color="#c4e6f8"/><stop offset="1" stop-color="#eef9fd"/></linearGradient>
<linearGradient id="gplus" x1="0" y1="0" x2="0" y2="1"><stop offset="0" stop-color="#7df07d"/><stop offset="1" stop-color="#12b812"/></linearGradient>
<linearGradient id="clk" x1="0" y1="0" x2="0" y2="1"><stop offset="0" stop-color="#2a8cf0"/><stop offset="1" stop-color="#0a48a8"/></linearGradient>
<linearGradient id="yel" x1="0" y1="0" x2="1" y2="0"><stop offset="0" stop-color="#f6c020"/><stop offset="0.6" stop-color="#fff080"/><stop offset="1" stop-color="#f0b010"/></linearGradient>
<linearGradient id="tgreen" x1="0" y1="0" x2="0" y2="1"><stop offset="0" stop-color="#2c8a12"/><stop offset="1" stop-color="#3aa81c"/></linearGradient>
<linearGradient id="tblue" x1="0" y1="0" x2="0" y2="1"><stop offset="0" stop-color="#1a3eb0"/><stop offset="1" stop-color="#3a6ae0"/></linearGradient>
<radialGradient id="sig" cx="0.5" cy="0.5" r="0.5"><stop offset="0" stop-color="#ffffff" stop-opacity="0.1"/><stop offset="1" stop-color="#2a9a2a" stop-opacity="0.85"/></radialGradient>
</defs>
<g shape-rendering="crispEdges">
<rect x="214" y="0" width="1" height="21" fill="#a0a0a0"/>
<rect x="215" y="0" width="1" height="21" fill="#ffffff"/>
<rect x="218" y="1" width="3" height="1" fill="#9a9a9a"/>
<rect x="218" y="3" width="3" height="1" fill="#9a9a9a"/>
<rect x="218" y="5" width="3" height="1" fill="#9a9a9a"/>
<rect x="218" y="7" width="3" height="1" fill="#9a9a9a"/>
<rect x="218" y="9" width="3" height="1" fill="#9a9a9a"/>
<rect x="218" y="11" width="3" height="1" fill="#9a9a9a"/>
<rect x="218" y="13" width="3" height="1" fill="#9a9a9a"/>
<rect x="218" y="15" width="3" height="1" fill="#9a9a9a"/>
<rect x="218" y="17" width="3" height="1" fill="#9a9a9a"/>
<rect x="218" y="19" width="3" height="1" fill="#9a9a9a"/>
<rect x="309" y="0" width="1" height="21" fill="#a0a0a0"/>
<rect x="310" y="0" width="1" height="21" fill="#ffffff"/>
<rect x="399" y="0" width="1" height="21" fill="#a0a0a0"/>
<rect x="404" y="0" width="1" height="21" fill="#a0a0a0"/>
<rect x="461" y="0" width="1" height="21" fill="#a0a0a0"/>
<rect x="462" y="0" width="1" height="21" fill="#ffffff"/>
<rect x="582" y="0" width="1" height="21" fill="#a0a0a0"/>
<rect x="583" y="0" width="1" height="21" fill="#ffffff"/>
<rect x="586" y="1" width="3" height="1" fill="#9a9a9a"/>
<rect x="586" y="3" width="3" height="1" fill="#9a9a9a"/>
<rect x="586" y="5" width="3" height="1" fill="#9a9a9a"/>
<rect x="586" y="7" width="3" height="1" fill="#9a9a9a"/>
<rect x="586" y="9" width="3" height="1" fill="#9a9a9a"/>
<rect x="586" y="11" width="3" height="1" fill="#9a9a9a"/>
<rect x="586" y="13" width="3" height="1" fill="#9a9a9a"/>
<rect x="586" y="15" width="3" height="1" fill="#9a9a9a"/>
<rect x="586" y="17" width="3" height="1" fill="#9a9a9a"/>
<rect x="586" y="19" width="3" height="1" fill="#9a9a9a"/>
<rect x="649" y="0" width="1" height="21" fill="#a0a0a0"/>
<rect x="650" y="0" width="1" height="21" fill="#ffffff"/>
<rect x="888" y="0" width="1" height="21" fill="#a0a0a0"/>
<rect x="889" y="0" width="1" height="21" fill="#ffffff"/>
<rect x="892" y="1" width="3" height="1" fill="#9a9a9a"/>
<rect x="892" y="3" width="3" height="1" fill="#9a9a9a"/>
<rect x="892" y="5" width="3" height="1" fill="#9a9a9a"/>
<rect x="892" y="7" width="3" height="1" fill="#9a9a9a"/>
<rect x="892" y="9" width="3" height="1" fill="#9a9a9a"/>
<rect x="892" y="11" width="3" height="1" fill="#9a9a9a"/>
<rect x="892" y="13" width="3" height="1" fill="#9a9a9a"/>
<rect x="892" y="15" width="3" height="1" fill="#9a9a9a"/>
<rect x="892" y="17" width="3" height="1" fill="#9a9a9a"/>
<rect x="892" y="19" width="3" height="1" fill="#9a9a9a"/>
<rect x="1149" y="0" width="1" height="21" fill="#a0a0a0"/>
<rect x="1150" y="0" width="1" height="21" fill="#ffffff"/>
<rect x="253" y="0" width="24" height="21" fill="url(#chk)"/>
<rect x="252" y="0" width="1" height="21" fill="#a0a0a0"/>
<rect x="277" y="0" width="1" height="22" fill="#ffffff"/>
<rect x="252" y="21" width="26" height="1" fill="#ffffff"/>
<rect x="405" y="0" width="24" height="21" fill="url(#chk)"/>
<rect x="404" y="0" width="1" height="21" fill="#a0a0a0"/>
<rect x="429" y="0" width="1" height="22" fill="#ffffff"/>
<rect x="404" y="21" width="26" height="1" fill="#ffffff"/>
<rect x="433" y="0" width="24" height="21" fill="url(#chk)"/>
<rect x="432" y="0" width="1" height="21" fill="#a0a0a0"/>
<rect x="457" y="0" width="1" height="22" fill="#ffffff"/>
<rect x="432" y="21" width="26" height="1" fill="#ffffff"/>
<rect x="593" y="0" width="24" height="21" fill="url(#chk)"/>
<rect x="592" y="0" width="1" height="21" fill="#a0a0a0"/>
<rect x="617" y="0" width="1" height="22" fill="#ffffff"/>
<rect x="592" y="21" width="26" height="1" fill="#ffffff"/>
<rect x="1039" y="0" width="24" height="21" fill="url(#chk)"/>
<rect x="1038" y="0" width="1" height="21" fill="#a0a0a0"/>
<rect x="1063" y="0" width="1" height="22" fill="#ffffff"/>
<rect x="1038" y="21" width="26" height="1" fill="#ffffff"/>
</g>
<rect x="0" y="5" width="1" height="16" fill="#d8d8d8"/>
<rect x="0" y="13" width="4" height="4" fill="#00a800"/><rect x="0" y="14" width="3" height="2" fill="#00f000"/>
<text x='7' y='13.7' font-size='11.5' font-family='"Liberation Sans", "Noto Sans CJK SC", sans-serif' fill='#000' stroke='#000' stroke-width='0.18' textLength='36.5' lengthAdjust='spacingAndGlyphs'>新订单</text>
<text x='160' y='13.7' font-size='11.5' font-family='"Liberation Sans", "Noto Sans CJK SC", sans-serif' fill='#000' stroke='#000' stroke-width='0.18' textLength='46' lengthAdjust='spacingAndGlyphs'>自动交易</text>
<path d="M55.4,13 L62.4,18.6 L70.5,12.6 L70.2,10.6 L62.4,16 L56.2,11.6 Z" fill="#c8860a" stroke="#a86c0c" stroke-width="0.9" stroke-linejoin="round"/>
<path d="M63.2,17.2 L69.8,12.2" stroke="#f4e6a8" stroke-width="0.9"/>
<path d="M60.3,4.3 L70,10.6 L62.4,16.2 L55.6,11.8 Q58.6,9.4 60.3,4.3 Z" fill="url(#gold)" stroke="#a86c0c" stroke-width="0.9" stroke-linejoin="round"/>
<path d="M56.6,12.6 L62.3,16.4" stroke="#fbe9a0" stroke-width="0.9" opacity="0.9"/>
<path d="M85,4 L89,3 L96,4.5 L96,13 L85,13 Z" fill="url(#srv)"/>
<path d="M88.5,5.5 L88.5,13" stroke="#e0f4ff" stroke-width="0.8"/><path d="M85.2,4.2 L88.5,5.5 L96,4.8" stroke="#bfe6ff" stroke-width="0.7" fill="none"/>
<rect x="90.5" y="7" width="4.5" height="1.2" fill="#e8f6ff"/>
<path d="M85.5,18.6 C82.5,18.6 82.3,14.6 85.5,14.4 C85.8,12.2 89,11.6 90,13.2 C91.5,10.8 95,11.4 95.2,13.8 C98,13 99.6,15 98.8,17 C98.4,18.2 97.5,18.6 96.5,18.6 Z" fill="url(#cloud)" stroke="#3c5c9c" stroke-width="0.9"/>
<defs><linearGradient id="ring" x1="0" y1="0" x2="1" y2="0"><stop offset="0" stop-color="#3a66d8"/><stop offset="0.55" stop-color="#5a86d0"/><stop offset="1" stop-color="#3a8a6a"/></linearGradient></defs>
<path d="M119,10.8 L119,18.8 A8,8 0 0 0 122.4,3.6000000000000005 Z" fill="url(#sig)"/>
<circle cx="119" cy="10.8" r="7.5" fill="none" stroke="url(#ring)" stroke-width="1" opacity="0.6"/>
<circle cx="119" cy="10.8" r="4.8" fill="none" stroke="url(#ring)" stroke-width="1" opacity="0.6"/>
<path d="M118.4,12.8 L118.4,19.200000000000003" stroke="#f0f0f0" stroke-width="1.2"/>
<circle cx="119" cy="10.8" r="2" fill="#2456cc"/>
<rect x="119" y="10.8" width="1.1" height="8" fill="#1fa81f"/>
<path d="M138.4,10.2 L153.7,9.6 L150,15 L145.6,18.5 Z" fill="url(#yel)" stroke="#c8920c" stroke-width="0.8" stroke-linejoin="round"/>
<ellipse cx="146.2" cy="8" rx="7.8" ry="2.7" fill="#56b0e0" stroke="#1878ac" stroke-width="0.9"/>
<ellipse cx="146.4" cy="6" rx="3.6" ry="2.9" fill="#6cc0ea" stroke="#1878ac" stroke-width="0.8"/>
<path d="M142.6,7.6 Q146.4,9.6 150.2,7.6" fill="none" stroke="#1878ac" stroke-width="0.7"/>
<circle cx="150.5" cy="15" r="4.1" fill="#e42806" stroke="#b41404" stroke-width="0.8"/>
<rect x="149" y="13.5" width="3" height="3" fill="#fff"/>
<g fill="#4a4a4a" shape-rendering="crispEdges"><rect x="232" y="5" width="1" height="14"/><rect x="230" y="16" width="14" height="1"/></g>
<polygon points="232.5,4.4 234.7,7 230.3,7" fill="#4a4a4a"/>
<polygon points="244.6,16.5 242,14.3 242,18.7" fill="#4a4a4a"/>
<g fill="#1e8e1e" shape-rendering="crispEdges"><rect x="238" y="6" width="1" height="9"/><rect x="239" y="7" width="2" height="1"/><rect x="236" y="13" width="2" height="1"/></g>
<g fill="#4a4a4a" shape-rendering="crispEdges"><rect x="260" y="5" width="1" height="14"/><rect x="258" y="16" width="14" height="1"/></g>
<polygon points="260.5,4.4 262.7,7 258.3,7" fill="#4a4a4a"/>
<polygon points="272.6,16.5 270,14.3 270,18.7" fill="#4a4a4a"/>
<g shape-rendering="crispEdges"><rect x="266" y="3" width="1" height="12" fill="#0c8c0c"/><rect x="264" y="5" width="5" height="8" fill="#0c8c0c"/><rect x="265" y="6" width="3" height="6" fill="#46e846"/></g>
<g fill="#4a4a4a" shape-rendering="crispEdges"><rect x="288" y="5" width="1" height="14"/><rect x="286" y="16" width="14" height="1"/></g>
<polygon points="288.5,4.4 290.7,7 286.3,7" fill="#4a4a4a"/>
<polygon points="300.6,16.5 298,14.3 298,18.7" fill="#4a4a4a"/>
<path d="M287,13.6 C289.5,12.6 291,8.4 293,8.4 C295,8.4 296.5,11.4 298.8,12" fill="none" stroke="#2a9a2a" stroke-width="1.2"/>
<path d="M327.2,12 L333.2,17.2" stroke="#9c7410" stroke-width="3.2"/>
<path d="M327.4,12.2 L332.8,16.9" stroke="#ecca44" stroke-width="1.7"/>
<circle cx="324" cy="9" r="5.5" fill="url(#lens)" stroke="#2a7ccc" stroke-width="1.1"/>
<rect x="320.5" y="8.2" width="7" height="1.7" fill="#3f8ab8"/>
<rect x="323.15" y="5.5" width="1.7" height="7" fill="#3f8ab8"/>
<path d="M355.2,12 L361.2,17.2" stroke="#9c7410" stroke-width="3.2"/>
<path d="M355.4,12.2 L360.8,16.9" stroke="#ecca44" stroke-width="1.7"/>
<circle cx="352" cy="9" r="5.5" fill="url(#lens)" stroke="#2a7ccc" stroke-width="1.1"/>
<rect x="348.5" y="8.2" width="7" height="1.7" fill="#3f8ab8"/>
<g shape-rendering="crispEdges">
<rect x="374" y="3" width="8" height="8" fill="url(#tgreen)"/>
<rect x="375" y="4" width="1" height="1" fill="#fff" opacity="0.85"/>
<rect x="375" y="6" width="6" height="4" fill="#fff"/>
<rect x="376" y="7" width="4" height="1" fill="#a6e08c"/>
<rect x="376" y="9" width="4" height="1" fill="#36a018"/>
<rect x="382" y="3" width="8" height="8" fill="url(#tblue)"/>
<rect x="383" y="4" width="1" height="1" fill="#fff" opacity="0.85"/>
<rect x="383" y="6" width="6" height="4" fill="#fff"/>
<rect x="384" y="7" width="4" height="1" fill="#9cb8f6"/>
<rect x="384" y="9" width="4" height="1" fill="#3464dc"/>
<rect x="374" y="11" width="8" height="8" fill="url(#tblue)"/>
<rect x="375" y="12" width="1" height="1" fill="#fff" opacity="0.85"/>
<rect x="375" y="14" width="6" height="4" fill="#fff"/>
<rect x="376" y="15" width="4" height="1" fill="#9cb8f6"/>
<rect x="376" y="17" width="4" height="1" fill="#3464dc"/>
<rect x="382" y="11" width="8" height="8" fill="url(#tgreen)"/>
<rect x="383" y="12" width="1" height="1" fill="#fff" opacity="0.85"/>
<rect x="383" y="14" width="6" height="4" fill="#fff"/>
<rect x="384" y="15" width="4" height="1" fill="#a6e08c"/>
<rect x="384" y="17" width="4" height="1" fill="#36a018"/>
</g>
<g fill="#4a4a4a" shape-rendering="crispEdges"><rect x="412" y="5" width="1" height="14"/><rect x="410" y="16" width="14" height="1"/></g>
<polygon points="412.5,4.4 414.7,7 410.3,7" fill="#4a4a4a"/>
<polygon points="424.6,16.5 422,14.3 422,18.7" fill="#4a4a4a"/>
<polygon points="417.3,7.2 417.3,13.8 421,10.5" fill="#a6e6a6" stroke="#1a9a1a" stroke-width="1"/>
<g fill="#4a4a4a" shape-rendering="crispEdges"><rect x="440" y="5" width="1" height="14"/><rect x="438" y="16" width="14" height="1"/></g>
<polygon points="440.5,4.4 442.7,7 438.3,7" fill="#4a4a4a"/>
<polygon points="452.6,16.5 450,14.3 450,18.7" fill="#4a4a4a"/>
<rect x="446" y="5" width="1.3" height="10" fill="#1c6ca8"/>
<path d="M447.6,10.5 L450.4,8 L450,10 L452.2,10 L452.2,11 L450,11 L450.4,13 Z" fill="#d84c00" stroke="#d84c00" stroke-width="0.5"/>
<path d="M471.5,3.5 L479.5,3.5 L482.5,6.5 L482.5,16.5 L471.5,16.5 Z" fill="#fdfdfd" stroke="#8a8a8a" stroke-width="1"/>
<path d="M479.5,3.5 L479.5,6.5 L482.5,6.5" fill="#e8e8e8" stroke="#8a8a8a" stroke-width="0.8"/>
<path d="M474.8,7 Q473.6,7 473.6,8.2 L473.6,12.5 Q473.6,13.8 474.8,13.8" fill="none" stroke="#7a7a66" stroke-width="0.9"/>
<path d="M479.3,9.5 h3.8 v3.5 h3.5 v3.8 h-3.5 v3.5 h-3.8 v-3.5 h-3.5 v-3.8 h3.5 Z" fill="url(#gplus)" stroke="#0a8c0a" stroke-width="0.9" stroke-linejoin="round"/>
<polygon points="493,9.8 498.6,9.8 495.8,13" fill="#000"/>
<circle cx="517" cy="11" r="7.9" fill="url(#clk)"/>
<circle cx="517" cy="11" r="5.2" fill="#f4f8fc"/>
<path d="M516.6,7 L516.6,11.2 L519.6,11.2" fill="none" stroke="#303030" stroke-width="1.2"/>
<circle cx="517" cy="11" r="4.3" fill="none" stroke="#8a98a8" stroke-width="0.7" stroke-dasharray="0.6 1.8"/>
<polygon points="532,9.8 537.6,9.8 534.8,13" fill="#000"/>
<rect x="548.5" y="4.5" width="15" height="13" fill="#ffffff" stroke="#3a72c8" stroke-width="1"/>
<rect x="549" y="5" width="14" height="2" fill="#5a9ae6"/>
<rect x="549" y="12" width="14" height="1" fill="#4a80d0" shape-rendering="crispEdges"/>
<path d="M550.5,10.2 L552.6,10.2 L554,9 L555.6,8.2 L557.4,9.4 L559.4,9.2 L561.6,8" fill="none" stroke="#a82a10" stroke-width="1.1"/>
<path d="M550.8,15.4 L552.6,14.4 L554.8,15.4 L556.8,14.6 L558.8,13.2 L561.4,15.6" fill="none" stroke="#1c941c" stroke-width="1.1"/>
<polygon points="570.5,9.8 576.1,9.8 573.3,13" fill="#000"/>
<path d="M600.2,3.8 L600.2,15 L602.9,12.7 L605.2,18 L607,17.2 L604.7,12 L608.2,11.6 Z" fill="#4a4a4a"/>
<g fill="#4a4a4a" shape-rendering="crispEdges"><rect x="632" y="4" width="1" height="6"/><rect x="632" y="13" width="1" height="6"/><rect x="625" y="11" width="6" height="1"/><rect x="634" y="11" width="6" height="1"/><rect x="632" y="11" width="1" height="1" opacity="0.6"/></g>
<rect x="666" y="5" width="1.3" height="13" fill="#4a4a4a"/>
<rect x="689" y="10.8" width="12" height="1.3" fill="#4a4a4a"/>
<path d="M717,17.8 L729,5.9" stroke="#4a4a4a" stroke-width="1.3"/>
<g stroke="#4a4a4a" stroke-width="1.1" fill="none"><path d="M742.8,12.6 L751,5"/><path d="M747.6,17.8 L757.2,9.4"/><path d="M744.5,16.5 L746.3,10.8 L748.2,14.4 L750,8.8 L752.4,12.4 L754.6,3.6 L755.4,9.8"/></g>
<text x='754' y='19.8' font-size='7.5' font-weight='bold' fill='#333'>E</text>
<g stroke="#4a4a4a" stroke-width="1" stroke-dasharray="1 1" shape-rendering="crispEdges"><path d="M772,4.5 H786"/><path d="M772,7.5 H786"/><path d="M772,11.5 H786"/><path d="M772,15.5 H781"/></g>
<text x='782' y='20' font-size='7.5' font-weight='bold' fill='#333'>F</text>
<text x='802.6' y='16' font-size='12.5' fill='#505050' stroke='#505050' stroke-width='0.4'>A</text>
<rect x="829.5" y="5.5" width="11" height="12" fill="none" stroke="#4a4a4a" stroke-width="1" stroke-dasharray="1 1" shape-rendering="crispEdges"/>
<rect x="828" y="4" width="2" height="1.5" fill="#4a4a4a"/>
<path d="M832,8 H838.6 V9.4 H836 V15.6 H834.6 V9.4 H832 Z" fill="#4a4a4a"/>
<polygon points="859.5,4.8 863.2,8.2 861.6,9.6 857.4,9.6 855.8,8.2" fill="#4a4a4a"/>
<polygon points="866.6,18.4 870.4,14.8 868.8,13.4 864.6,13.4 862.8,14.8" fill="#4a4a4a"/>
<path d="M858.2,12.8 L860.6,14.8 L864.9,9.4" fill="none" stroke="#4a4a4a" stroke-width="1.2"/>
<polygon points="877,9.8 882.6,9.8 879.8,13" fill="#000"/>
<text x='903.5' y='15' font-size='10' fill='#484848' stroke='#484848' stroke-width='0.15' textLength='12.5' lengthAdjust='spacingAndGlyphs'>M1</text>
<text x='931.6' y='15' font-size='10' fill='#484848' stroke='#484848' stroke-width='0.15' textLength='12.4' lengthAdjust='spacingAndGlyphs'>M5</text>
<text x='957.5' y='15' font-size='10' fill='#484848' stroke='#484848' stroke-width='0.15' textLength='17.5' lengthAdjust='spacingAndGlyphs'>M15</text>
<text x='985.8' y='15' font-size='10' fill='#484848' stroke='#484848' stroke-width='0.15' textLength='17.4' lengthAdjust='spacingAndGlyphs'>M30</text>
<text x='1016.6' y='15' font-size='10' fill='#484848' stroke='#484848' stroke-width='0.15' textLength='11.4' lengthAdjust='spacingAndGlyphs'>H1</text>
<text x='1044' y='15' font-size='10' fill='#484848' stroke='#484848' stroke-width='0.15' textLength='12' lengthAdjust='spacingAndGlyphs'>H4</text>
<text x='1073' y='15' font-size='10' fill='#484848' stroke='#484848' stroke-width='0.15' textLength='11' lengthAdjust='spacingAndGlyphs'>D1</text>
<text x='1100' y='15' font-size='10' fill='#484848' stroke='#484848' stroke-width='0.15' textLength='14' lengthAdjust='spacingAndGlyphs'>W1</text>
<text x='1126.6' y='15' font-size='10' fill='#484848' stroke='#484848' stroke-width='0.15' textLength='15.0' lengthAdjust='spacingAndGlyphs'>MN</text>
<path d="M1616.2,11.2 L1611.8,15.8" stroke="#2a5ed0" stroke-width="2.2" stroke-linecap="round"/>
<circle cx="1619.6" cy="8.3" r="3.8" fill="#f6f6fa" stroke="#2a5ed0" stroke-width="1.2"/>
<path d="M1641.6,8.2 C1645,8.2 1647,10.2 1647,12.6 C1647,15.2 1644.6,17 1641.6,17 L1640.6,17 L1639.2,19.6 L1638.8,16.6 C1637.2,15.8 1636.2,14.4 1636.2,12.6 C1636.2,10.2 1638.4,8.2 1641.6,8.2 Z" fill="#e4e6ee" stroke="#a8a8a8" stroke-width="0.9"/>
<circle cx="1650.7" cy="8.3" r="8.2" fill="url(#redg)"/>
<text x='1650.6' y='13.4' font-size='13.5' font-weight='bold' fill='#fff' text-anchor='middle' font-family='"Liberation Serif", serif'>1</text>
</svg>
</body></html>
